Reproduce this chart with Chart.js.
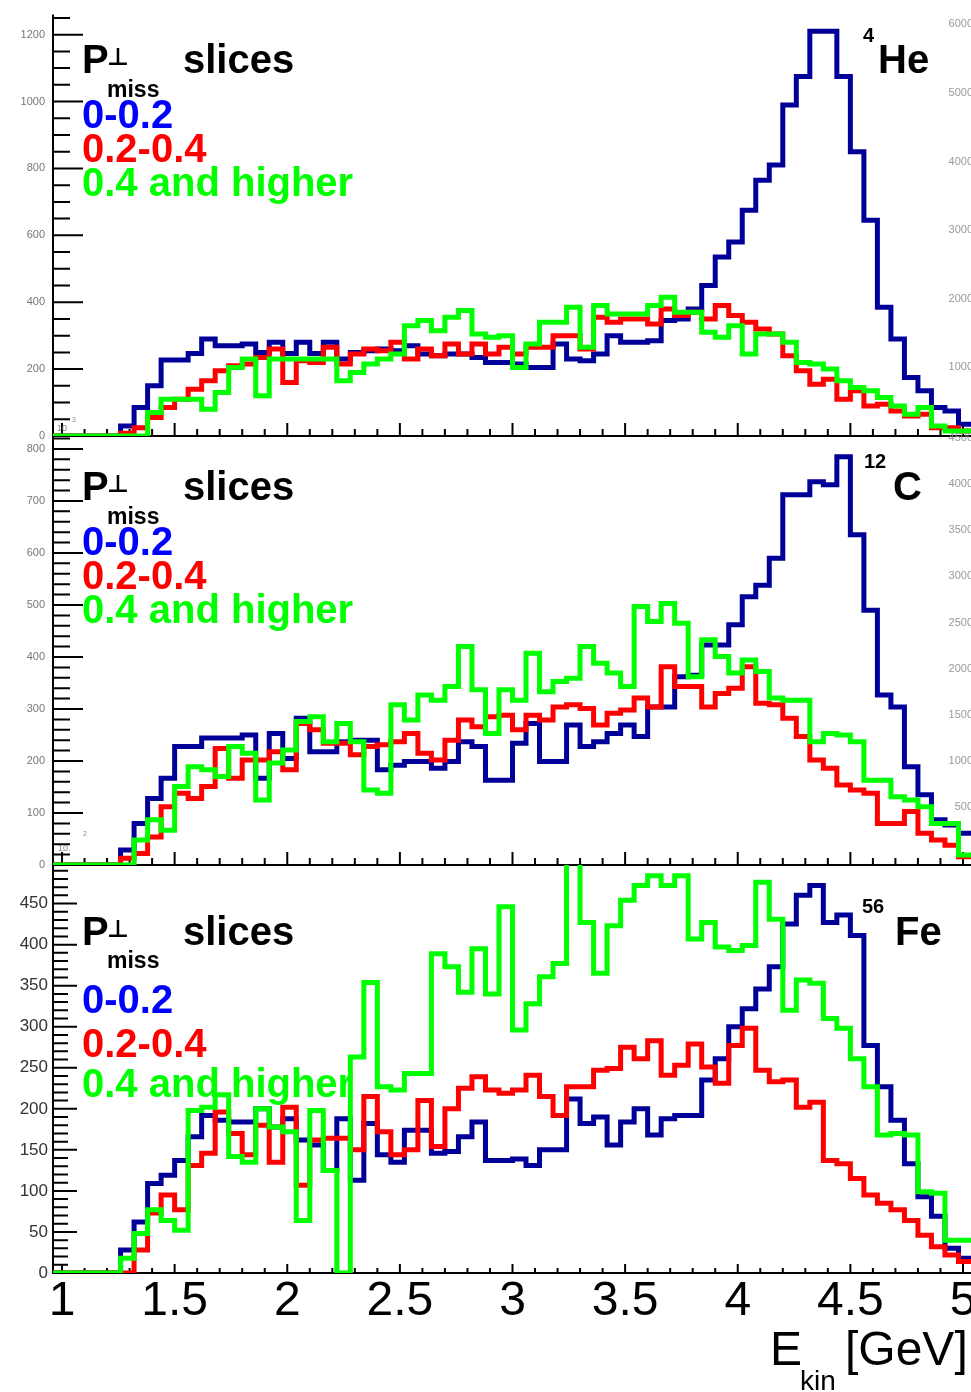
<!DOCTYPE html>
<html>
<head>
<meta charset="utf-8">
<script src="https://cdn.jsdelivr.net/npm/chart.js@4.4.1/dist/chart.umd.min.js"></script>
<style>
  html, body { margin: 0; padding: 0; background: #fff; overflow: hidden; }
  #wrap { position: relative; width: 971px; height: 1392px; overflow: hidden; }
  canvas { position: absolute; left: 0; top: 0; }
</style>
</head>
<body>
<div id="wrap">
  <canvas id="heChart" width="975" height="1392"></canvas>
  <canvas id="cChart" width="975" height="1392"></canvas>
  <canvas id="feChart" width="975" height="1392"></canvas>
</div>
<script>
// bin edges of the E_kin histograms [GeV]
var binEdges = [0.96, 1.02, 1.08, 1.14, 1.20, 1.26, 1.32, 1.38, 1.44, 1.50, 1.56, 1.62, 1.68, 1.74, 1.80, 1.86, 1.92, 1.98,
  2.04, 2.10, 2.16, 2.22, 2.28, 2.34, 2.40, 2.46, 2.52, 2.58, 2.64, 2.70, 2.76, 2.82, 2.88, 2.94, 3.00, 3.06, 3.12, 3.18,
  3.24, 3.30, 3.36, 3.42, 3.48, 3.54, 3.60, 3.66, 3.72, 3.78, 3.84, 3.90, 3.96, 4.02, 4.08, 4.14, 4.20, 4.26, 4.32, 4.38,
  4.44, 4.50, 4.56, 4.62, 4.68, 4.74, 4.80, 4.86, 4.92, 4.98, 5.04]
var xTickLabels = [1, 1.5, 2, 2.5, 3, 3.5, 4, 4.5, 5]

// 4He
var heBlue = [0, 0, 0, 0, 0, 30, 85, 150, 227, 227, 247, 290, 270, 270, 275, 250, 280, 247, 280, 247, 280, 230, 250, 255,
  260, 255, 270, 245, 240, 245, 245, 235, 220, 220, 215, 205, 205, 275, 230, 225, 245, 300, 280, 280, 285, 345, 350, 380,
  450, 535, 580, 675, 765, 810, 990, 1075, 1210, 1210, 1075, 850, 645, 385, 290, 175, 135, 85, 75, 35]
var heRed = [0, 0, 0, 0, 0, 8, 25, 55, 85, 110, 140, 165, 195, 210, 215, 235, 260, 160, 225, 220, 265, 215, 245, 260,
  255, 280, 230, 260, 240, 275, 245, 275, 245, 265, 245, 265, 265, 300, 300, 260, 355, 340, 350, 350, 335, 380, 360, 370,
  350, 390, 360, 340, 320, 305, 240, 195, 155, 170, 110, 135, 90, 95, 75, 60, 65, 25, 25, 15]
var heGreen = [0, 0, 0, 0, 0, 0, 0, 70, 110, 110, 110, 80, 130, 205, 230, 120, 230, 230, 230, 230, 230, 165, 190, 215,
  230, 245, 330, 345, 315, 355, 375, 305, 295, 300, 205, 275, 340, 340, 385, 265, 390, 365, 365, 365, 390, 415, 370, 370,
  310, 295, 330, 245, 305, 305, 280, 220, 215, 200, 165, 145, 135, 115, 90, 65, 85, 30, 15, 15]
var heLeftTicks = [0, 200, 400, 600, 800, 1000, 1200]
var heRightTicks = [1000, 2000, 3000, 4000, 5000, 6000]

// 12C
var cBlue = [0, 0, 0, 0, 0, 29, 80, 128, 167, 228, 228, 244, 244, 244, 250, 167, 253, 205, 282, 218, 218, 237, 240, 240,
  183, 192, 199, 199, 186, 199, 237, 228, 163, 163, 234, 272, 199, 199, 269, 228, 237, 253, 269, 247, 304, 304, 362, 365,
  423, 423, 462, 516, 538, 590, 712, 712, 737, 731, 785, 635, 490, 327, 304, 189, 135, 87, 77, 61]
var cRed = [0, 0, 0, 0, 0, 13, 22, 54, 112, 138, 128, 151, 224, 167, 202, 202, 218, 183, 272, 260, 234, 234, 212, 228,
  231, 237, 253, 215, 202, 240, 279, 266, 285, 288, 260, 288, 279, 304, 308, 301, 269, 292, 298, 321, 304, 381, 343, 343,
  304, 330, 340, 381, 311, 308, 282, 247, 202, 186, 154, 144, 138, 80, 80, 103, 61, 48, 38, 16]
var cGreen = [0, 0, 0, 0, 0, 0, 48, 87, 67, 151, 189, 183, 170, 228, 215, 125, 196, 221, 276, 285, 237, 272, 237, 144,
  138, 308, 279, 327, 317, 343, 420, 337, 253, 337, 317, 407, 333, 353, 359, 420, 388, 369, 343, 497, 468, 503, 465, 362,
  433, 401, 369, 394, 372, 321, 317, 317, 237, 253, 250, 237, 163, 163, 131, 125, 112, 80, 80, 19]
var cLeftTicks = [0, 100, 200, 300, 400, 500, 600, 700, 800]
var cRightTicks = [500, 1000, 1500, 2000, 2500, 3000, 3500, 4000, 4500]

// 56Fe
var feBlue = [0, 0, 0, 0, 0, 28, 62, 109, 119, 137, 166, 192, 186, 184, 184, 200, 178, 188, 162, 156, 125, 188, 113, 182,
  144, 135, 174, 174, 146, 148, 166, 184, 137, 137, 139, 131, 150, 150, 212, 182, 190, 156, 184, 200, 168, 188, 192, 192,
  235, 261, 300, 322, 346, 373, 425, 460, 472, 427, 436, 411, 277, 227, 186, 133, 93, 69, 30, 18]
var feRed = [0, 0, 0, 0, 0, 0, 28, 73, 95, 77, 131, 146, 196, 170, 144, 180, 135, 202, 107, 162, 164, 164, 150, 215,
  172, 144, 150, 210, 154, 200, 225, 239, 223, 219, 223, 241, 215, 192, 227, 227, 247, 249, 275, 261, 283, 241, 253, 279,
  251, 231, 277, 298, 247, 233, 235, 202, 208, 137, 133, 115, 95, 85, 77, 64, 46, 32, 22, 14]
var feGreen = [0, 0, 0, 0, 0, 18, 48, 77, 64, 52, 198, 202, 217, 142, 135, 200, 178, 172, 64, 198, 125, 0, 263, 354,
  227, 223, 243, 243, 389, 373, 342, 395, 340, 446, 296, 328, 361, 377, 560, 427, 365, 423, 454, 472, 484, 472, 484, 407,
  427, 397, 393, 399, 476, 431, 320, 357, 353, 310, 298, 261, 227, 168, 170, 168, 99, 97, 40, 40]
var feLeftTicks = [0, 50, 100, 150, 200, 250, 300, 350, 400, 450]

var sliceLabels = ["0-0.2", "0.2-0.4", "0.4 and higher"]
var textColors = ["#0000ff", "#ff0000", "#00ff00"]
var lineColors = ["#000099", "#ff0000", "#00ff00"]

var FONT = "'Liberation Sans', Arial, sans-serif"
var BOLD = "bold 40px " + FONT

function histPoints(values) {
  var pts = values.map(function (v, i) {
    return { x: binEdges[i], y: v }
  })
  pts.push({ x: binEdges[values.length], y: values[values.length - 1] })
  return pts
}

function fixedTicks(values) {
  return function (scale) {
    scale.ticks = values.map(function (v) {
      return { value: v }
    })
  }
}

function plainLabel(v) {
  return String(+Number(v).toFixed(2))
}

// ROOT style frame with ticks pointing inwards
var rootAxes = {
  id: "rootAxes",
  beforeDatasetsDraw: function (chart, args, opts) {
    var ctx = chart.ctx
    var a = chart.chartArea
    var x = chart.scales.x
    var y = chart.scales.y
    ctx.save()
    ctx.strokeStyle = "#000"
    ctx.lineWidth = 2
    ctx.beginPath()
    ctx.moveTo(a.left, a.top)
    ctx.lineTo(a.left, a.bottom)
    ctx.lineTo(a.right, a.bottom)
    ctx.lineTo(a.right, a.top)
    var n = Math.floor(y.max / opts.yMinor + 1e-6)
    for (var k = 0; k <= n; k++) {
      var py = y.getPixelForValue(k * opts.yMinor)
      var len = k % opts.yPer === 0 ? opts.yMajorLen : opts.yMinorLen
      ctx.moveTo(a.left, py)
      ctx.lineTo(a.left + len, py)
    }
    for (var j = 10; j <= 50; j++) {
      var px = x.getPixelForValue(j / 10)
      var l = j % 5 === 0 ? opts.xMajorLen : opts.xMinorLen
      ctx.moveTo(px, a.bottom)
      ctx.lineTo(px, a.bottom - l)
    }
    ctx.stroke()
    ctx.restore()
  },
}

var panelText = {
  id: "panelText",
  afterDatasetsDraw: function (chart, args, opts) {
    var ctx = chart.ctx
    ctx.save()
    ctx.textBaseline = "alphabetic"
    opts.items.forEach(function (t) {
      ctx.font = t.font
      ctx.fillStyle = t.color || "#000"
      ctx.fillText(t.text, t.x, t.y)
    })
    ctx.restore()
  },
}

function legendItems(b) {
  var items = [
    { text: "P", x: 82, y: b.title, font: BOLD },
    { text: "\u22A5", x: 107, y: b.title - 8, font: "bold 24px 'DejaVu Sans', sans-serif" },
    { text: "miss", x: 107, y: b.miss, font: "bold 23px " + FONT },
    { text: "slices", x: 183, y: b.title, font: BOLD },
  ]
  sliceLabels.forEach(function (s, i) {
    items.push({ text: s, x: 82, y: b.rows[i], font: BOLD, color: textColors[i] })
  })
  items.push({ text: b.mass, x: b.massX, y: b.massY, font: "bold 20px " + FONT })
  items.push({ text: b.symbol, x: b.symX, y: b.title, font: BOLD })
  return items.concat(b.extra || [])
}

function makePanel(id, p) {
  var series = [p.green, p.red, p.blue]
  var colors = [lineColors[2], lineColors[1], lineColors[0]]
  var datasets = series.map(function (vals, i) {
    return {
      data: histPoints(vals),
      borderColor: colors[i],
      borderWidth: 5,
      stepped: true,
      pointRadius: 0,
      fill: false,
      order: i,
      borderJoinStyle: "miter",
    }
  })

  var scales = {
    x: {
      type: "linear",
      min: 0.96,
      max: 5.04,
      display: p.showX,
      grid: { display: false, drawTicks: false },
      border: { display: false },
      afterBuildTicks: fixedTicks(xTickLabels),
      ticks: {
        autoSkip: false,
        maxRotation: 0,
        padding: 0,
        color: "#000",
        font: { family: FONT, size: 48 },
        callback: plainLabel,
      },
      afterFit: function (s) {
        s.height = p.xHeight
        s.paddingLeft = 0
        s.paddingRight = 0
      },
    },
    y: {
      position: "left",
      min: 0,
      max: p.yMax,
      grid: { display: false, drawTicks: false },
      border: { display: false },
      afterBuildTicks: fixedTicks(p.yTicks),
      ticks: {
        autoSkip: false,
        padding: p.yPad,
        color: p.yColor,
        font: { family: FONT, size: p.ySize },
        callback: plainLabel,
      },
      afterFit: function (s) {
        s.width = 53
      },
    },
  }
  if (p.y2) {
    scales.y2 = {
      position: "right",
      min: p.y2.min,
      max: p.y2.max,
      grid: { display: false, drawTicks: false },
      border: { display: false },
      afterBuildTicks: fixedTicks(p.y2.ticks),
      ticks: {
        autoSkip: false,
        mirror: true,
        padding: 1,
        color: "#999",
        font: { family: FONT, size: 11 },
        callback: plainLabel,
      },
      afterFit: function (s) {
        s.width = 0
      },
    }
  }

  return new Chart(document.getElementById(id), {
    type: "line",
    data: { datasets: datasets },
    options: {
      responsive: false,
      animation: false,
      events: [],
      layout: { padding: { top: p.top, bottom: p.bottom, left: 0, right: 3 } },
      plugins: {
        legend: { display: false },
        tooltip: { enabled: false },
        rootAxes: p.ticks,
        panelText: { items: p.texts },
      },
      scales: scales,
    },
    plugins: [rootAxes, panelText],
  })
}

makePanel("heChart", {
  blue: heBlue, red: heRed, green: heGreen,
  top: 13, bottom: 1392 - 436, showX: false, xHeight: 0,
  yMax: 1260, yTicks: heLeftTicks, yPad: 8, yColor: "#777", ySize: 11,
  y2: { min: 0, max: 6140, ticks: heRightTicks },
  ticks: { yMinor: 50, yPer: 4, yMajorLen: 30, yMinorLen: 17, xMajorLen: 13, xMinorLen: 7 },
  texts: legendItems({
    title: 73, miss: 97, rows: [128, 162, 196],
    mass: "4", massX: 863, massY: 42, symbol: "He", symX: 878,
    extra: [
      { text: "10", x: 57, y: 431, font: "9px " + FONT, color: "#888" },
      { text: "3", x: 72, y: 422, font: "7px " + FONT, color: "#888" },
    ],
  }),
})

makePanel("cChart", {
  blue: cBlue, red: cRed, green: cGreen,
  top: 437, bottom: 1392 - 865, showX: false, xHeight: 0,
  yMax: 823, yTicks: cLeftTicks, yPad: 8, yColor: "#777", ySize: 11,
  y2: { min: -124, max: 4510, ticks: cRightTicks },
  ticks: { yMinor: 20, yPer: 5, yMajorLen: 30, yMinorLen: 17, xMajorLen: 13, xMinorLen: 7 },
  texts: legendItems({
    title: 500, miss: 524, rows: [555, 589, 623],
    mass: "12", massX: 864, massY: 468, symbol: "C", symX: 893,
    extra: [
      { text: "10.", x: 58, y: 851, font: "9px " + FONT, color: "#888" },
      { text: "2", x: 83, y: 836, font: "7px " + FONT, color: "#888" },
    ],
  }),
})

makePanel("feChart", {
  blue: feBlue, red: feRed, green: feGreen,
  top: 865, bottom: 0, showX: true, xHeight: 1392 - 1273,
  yMax: 497, yTicks: feLeftTicks, yPad: 5, yColor: "#333", ySize: 17,
  y2: null,
  ticks: { yMinor: 10, yPer: 5, yMajorLen: 24, yMinorLen: 15, xMajorLen: 9, xMinorLen: 5 },
  texts: legendItems({
    title: 945, miss: 968, rows: [1013, 1057, 1097],
    mass: "56", massX: 862, massY: 913, symbol: "Fe", symX: 895,
    extra: [
      { text: "E", x: 770, y: 1365, font: "48px " + FONT },
      { text: "kin", x: 800, y: 1390, font: "28px " + FONT },
      { text: "[GeV]", x: 845, y: 1365, font: "48px " + FONT },
    ],
  }),
})
</script>
</body>
</html>
